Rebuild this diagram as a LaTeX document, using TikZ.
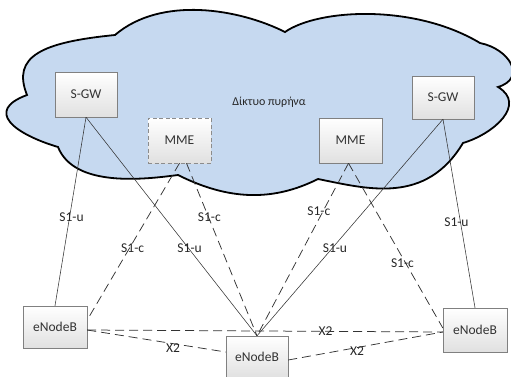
\documentclass[tikz,border=0pt]{standalone}
\usepackage{fontspec}
\setmainfont{Carlito}
\usetikzlibrary{calc}
\definecolor{cloudfill}{RGB}{198,217,240}
\begin{document}
\begin{tikzpicture}[x=1pt,y=-1pt,
  box/.style={draw=black!50, top color=white, bottom color=black!12, minimum width=62pt, minimum height=44pt, inner sep=0pt, font=\fontsize{13.5}{16}\selectfont, text=black!80},
  su/.style={draw=black!80, line width=0.55pt},
  sc/.style={draw=black!80, line width=0.75pt, dash pattern=on 9pt off 5pt},
  lbl/.style={font=\fontsize{13.5}{16}\selectfont, inner sep=0pt, text=black!85}]
\useasboundingbox (0,0) rectangle (511,376);
\clip (0,0) rectangle (511,376);
% cloud
\draw[line width=1.8pt, fill=cloudfill, line join=miter]
  (115,35) .. controls (161,-4.4) and (239,8.8) .. (285,32)
  .. controls (317.8,9) and (413.9,3.3) .. (480,43)
  .. controls (509.8,49) and (526.9,78.3) .. (498,87)
  .. controls (526.9,104.3) and (494.1,133.7) .. (463,143)
  .. controls (425.7,205.1) and (367.3,188.9) .. (318,179)
  .. controls (272.6,201.7) and (228.6,200.3) .. (178,175)
  .. controls (145.6,179.2) and (74.4,188.1) .. (58,147)
  .. controls (14.2,133.9) and (-15.8,110.8) .. (27,95)
  .. controls (11.3,55.8) and (42.7,42.2) .. (115,35) -- cycle;
\node[font=\fontsize{12}{14}\selectfont, text=black!85] (core) at (269,102) {Δίκτυο πυρήνα};
% boxes
\node[box, minimum height=45pt] (sgwL) at (86,94.5) {S-GW};
\node[box, minimum width=63pt, minimum height=45pt, draw=black!45, dash pattern=on 4pt off 2.5pt] (mmeL) at (179.5,140.5) {MME};
\node[box, minimum width=63pt, minimum height=45pt] (mmeR) at (350.5,140.5) {MME};
\node[box, minimum height=43pt] (sgwR) at (443,97.5) {S-GW};
\node[box, minimum width=64pt, minimum height=42pt] (eL) at (55,327) {eNodeB};
\node[box, minimum width=62pt, minimum height=42pt] (eM) at (257,357) {eNodeB};
\node[box, minimum width=64pt, minimum height=44pt] (eR) at (475,330) {eNodeB};
% S1-u
\draw[su] (sgwL.south) -- node[lbl,pos=0.53,xshift=2pt]{S1-u} (eL.north);
\draw[su] (sgwL.south) -- node[lbl,pos=0.6,xshift=1pt]{S1-u} (eM.north);
\draw[su] (sgwR.south) -- node[lbl,pos=0.597,xshift=3pt]{S1-u} (eM.north);
\draw[su] (sgwR.south) -- node[lbl,pos=0.545,xshift=-4pt]{S1-u} (eR.north);
% S1-c
\draw[sc] (mmeL.south) -- node[lbl,pos=0.54,xshift=3pt]{S1-c} ($(eL.east)+(0,-7)$);
\draw[sc] ($(mmeL.south)+(7,0)$) -- node[lbl,pos=0.31,xshift=1pt]{S1-c} (eM.north);
\draw[sc] ($(mmeR.south)+(-2,0)$) -- node[lbl,pos=0.28,xshift=-4pt]{S1-c} (eM.north);
\draw[sc] ($(mmeR.south)+(-2,0)$) -- node[lbl,pos=0.604,xshift=-3pt]{S1-c} ($(eR.west)+(0,-2)$);
% X2
\draw[sc] ($(eL.east)+(0,3)$) -- node[lbl,pos=0.67]{X2} ($(eR.west)+(0,2)$);
\draw[sc] ($(eL.east)+(0,3)$) -- node[lbl,pos=0.62,yshift=-4pt]{X2} ($(eM.west)+(0,-5)$);
\draw[sc] ($(eM.east)+(0,3)$) -- node[lbl,pos=0.445,yshift=-4pt]{X2} ($(eR.west)+(0,2)$);
\end{tikzpicture}
\end{document}
